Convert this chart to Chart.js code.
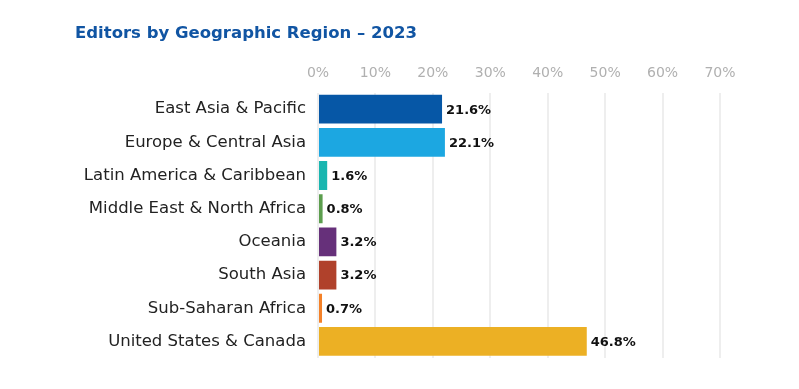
<!DOCTYPE html>
<html>
<head>
<meta charset="utf-8">
<script src="https://cdn.jsdelivr.net/npm/chart.js@4"></script>
<style>
html,body{margin:0;padding:0;background:#fff;}
#wrap{width:799px;height:389px;}
</style>
</head>
<body>
<div id="wrap"><canvas id="chart" width="799" height="389"></canvas></div>
<script>
// data
const regions = ["East Asia & Pacific","Europe & Central Asia","Latin America & Caribbean","Middle East & North Africa","Oceania","South Asia","Sub-Saharan Africa","United States & Canada"];
const shares = [21.6,22.1,1.6,0.8,3.2,3.2,0.7,46.8];
const barColors = ["#0657a6","#1ca7e1","#19b6b0","#5c9e4e","#66307a","#b0412b","#f48128","#ecb024"];
const axisTicks = [0,10,20,30,40,50,60,70];

const FONT = "'DejaVu Sans', sans-serif";

// writes the value next to the end of each bar
const valueLabels = {
  id:"valueLabels",
  afterDatasetsDraw(chart){
    let ctx = chart.ctx;
    let meta = chart.getDatasetMeta(0);
    ctx.save();
    ctx.font = "bold 13px " + FONT;
    ctx.fillStyle = "#111";
    ctx.textAlign = "left";
    ctx.textBaseline = "middle";
    meta.data.forEach((bar,i)=>{
      ctx.fillText(shares[i].toFixed(1) + "%", bar.x + 4, bar.y + 1);
    });
    ctx.restore();
  }
};

new Chart(document.getElementById("chart"),{
  type:"bar",
  data:{
    labels:regions,
    datasets:[{
      data:shares,
      backgroundColor:barColors,
      borderWidth:0,
      categoryPercentage:1,
      barPercentage:0.87
    }]
  },
  options:{
    indexAxis:"y",
    responsive:false,
    animation:false,
    layout:{padding:{top:0,left:75,right:79,bottom:31}},
    plugins:{
      legend:{display:false},
      tooltip:{enabled:false},
      title:{
        display:true,
        text:"Editors by Geographic Region – 2023",
        align:"start",
        color:"#1155a3",
        font:{family:FONT,size:16.5,weight:"bold"},
        padding:{top:24,bottom:10}
      }
    },
    scales:{
      x:{
        position:"top",
        min:0,
        max:70,
        afterBuildTicks(scale){
          scale.ticks = axisTicks.map(v=>({value:v}));
        },
        ticks:{
          color:"#b0b0b0",
          font:{family:FONT,size:14},
          padding:11,
          callback:v=>v + "%"
        },
        grid:{color:"#eeeeee",lineWidth:2,drawTicks:false},
        border:{display:false}
      },
      y:{
        afterFit(scale){ scale.width = 318 - 75; },
        ticks:{
          color:"#222",
          font:{family:FONT,size:16.5},
          padding:4
        },
        grid:{display:false},
        border:{display:false}
      }
    }
  },
  plugins:[valueLabels]
});
</script>
</body>
</html>
